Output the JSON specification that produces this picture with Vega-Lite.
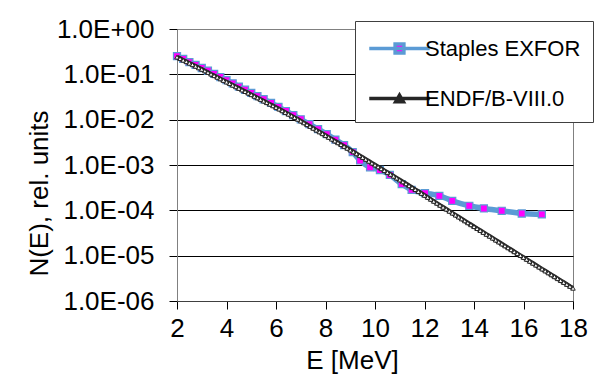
{
  "$schema": "https://vega.github.io/schema/vega-lite/v6.json",
  "width": 396,
  "height": 272,
  "autosize": {"type": "none"},
  "padding": {"left": 177, "top": 29, "right": 28, "bottom": 75},
  "background": "white",
  "config": {
    "font": "Liberation Sans",
    "view": {"stroke": "#808080", "strokeWidth": 1},
    "axis": {"labelFont": "Liberation Sans", "titleFont": "Liberation Sans", "labelColor": "#000", "titleColor": "#000", "titleFontWeight": "normal", "tickColor": "#000", "domainColor": "#404040"}
  },
  "data": {"values": [
    {"series": "Staples EXFOR", "E": 2.0, "N": 0.251},
    {"series": "Staples EXFOR", "E": 2.25, "N": 0.219},
    {"series": "Staples EXFOR", "E": 2.5, "N": 0.186},
    {"series": "Staples EXFOR", "E": 2.75, "N": 0.162},
    {"series": "Staples EXFOR", "E": 3.0, "N": 0.138},
    {"series": "Staples EXFOR", "E": 3.25, "N": 0.120},
    {"series": "Staples EXFOR", "E": 3.5, "N": 0.102},
    {"series": "Staples EXFOR", "E": 3.75, "N": 0.0871},
    {"series": "Staples EXFOR", "E": 4.0, "N": 0.0741},
    {"series": "Staples EXFOR", "E": 4.25, "N": 0.0631},
    {"series": "Staples EXFOR", "E": 4.5, "N": 0.0537},
    {"series": "Staples EXFOR", "E": 4.75, "N": 0.0457},
    {"series": "Staples EXFOR", "E": 5.0, "N": 0.0389},
    {"series": "Staples EXFOR", "E": 5.25, "N": 0.0331},
    {"series": "Staples EXFOR", "E": 5.5, "N": 0.0282},
    {"series": "Staples EXFOR", "E": 5.8, "N": 0.0234},
    {"series": "Staples EXFOR", "E": 6.1, "N": 0.0191},
    {"series": "Staples EXFOR", "E": 6.4, "N": 0.0155},
    {"series": "Staples EXFOR", "E": 6.7, "N": 0.0126},
    {"series": "Staples EXFOR", "E": 7.0, "N": 0.0102},
    {"series": "Staples EXFOR", "E": 7.35, "N": 0.00794},
    {"series": "Staples EXFOR", "E": 7.7, "N": 0.00617},
    {"series": "Staples EXFOR", "E": 8.05, "N": 0.00479},
    {"series": "Staples EXFOR", "E": 8.4, "N": 0.00363},
    {"series": "Staples EXFOR", "E": 8.75, "N": 0.00275},
    {"series": "Staples EXFOR", "E": 9.1, "N": 0.00192},
    {"series": "Staples EXFOR", "E": 9.4, "N": 0.00126},
    {"series": "Staples EXFOR", "E": 9.8, "N": 0.000891},
    {"series": "Staples EXFOR", "E": 10.2, "N": 0.000776},
    {"series": "Staples EXFOR", "E": 10.6, "N": 0.000603},
    {"series": "Staples EXFOR", "E": 11.08, "N": 0.000380},
    {"series": "Staples EXFOR", "E": 11.48, "N": 0.000282},
    {"series": "Staples EXFOR", "E": 12.02, "N": 0.000240},
    {"series": "Staples EXFOR", "E": 12.6, "N": 0.000209},
    {"series": "Staples EXFOR", "E": 13.12, "N": 0.000162},
    {"series": "Staples EXFOR", "E": 13.81, "N": 0.000126},
    {"series": "Staples EXFOR", "E": 14.4, "N": 0.000110},
    {"series": "Staples EXFOR", "E": 15.12, "N": 0.0000977},
    {"series": "Staples EXFOR", "E": 15.93, "N": 0.0000851},
    {"series": "Staples EXFOR", "E": 16.74, "N": 0.0000813},
    {"series": "ENDF/B-VIII.0", "E": 2.0, "N": 0.240},
    {"series": "ENDF/B-VIII.0", "E": 2.125, "N": 0.222},
    {"series": "ENDF/B-VIII.0", "E": 2.25, "N": 0.205},
    {"series": "ENDF/B-VIII.0", "E": 2.375, "N": 0.190},
    {"series": "ENDF/B-VIII.0", "E": 2.5, "N": 0.176},
    {"series": "ENDF/B-VIII.0", "E": 2.625, "N": 0.163},
    {"series": "ENDF/B-VIII.0", "E": 2.75, "N": 0.1505},
    {"series": "ENDF/B-VIII.0", "E": 2.875, "N": 0.139},
    {"series": "ENDF/B-VIII.0", "E": 3.0, "N": 0.129},
    {"series": "ENDF/B-VIII.0", "E": 3.125, "N": 0.119},
    {"series": "ENDF/B-VIII.0", "E": 3.25, "N": 0.110},
    {"series": "ENDF/B-VIII.0", "E": 3.375, "N": 0.101},
    {"series": "ENDF/B-VIII.0", "E": 3.5, "N": 0.0933},
    {"series": "ENDF/B-VIII.0", "E": 3.625, "N": 0.0861},
    {"series": "ENDF/B-VIII.0", "E": 3.75, "N": 0.0794},
    {"series": "ENDF/B-VIII.0", "E": 3.875, "N": 0.0733},
    {"series": "ENDF/B-VIII.0", "E": 4.0, "N": 0.0676},
    {"series": "ENDF/B-VIII.0", "E": 4.125, "N": 0.0624},
    {"series": "ENDF/B-VIII.0", "E": 4.25, "N": 0.0575},
    {"series": "ENDF/B-VIII.0", "E": 4.375, "N": 0.0531},
    {"series": "ENDF/B-VIII.0", "E": 4.5, "N": 0.0490},
    {"series": "ENDF/B-VIII.0", "E": 4.625, "N": 0.0452},
    {"series": "ENDF/B-VIII.0", "E": 4.75, "N": 0.0417},
    {"series": "ENDF/B-VIII.0", "E": 4.875, "N": 0.0385},
    {"series": "ENDF/B-VIII.0", "E": 5.0, "N": 0.0355},
    {"series": "ENDF/B-VIII.0", "E": 5.125, "N": 0.0327},
    {"series": "ENDF/B-VIII.0", "E": 5.25, "N": 0.0302},
    {"series": "ENDF/B-VIII.0", "E": 5.375, "N": 0.0279},
    {"series": "ENDF/B-VIII.0", "E": 5.5, "N": 0.0257},
    {"series": "ENDF/B-VIII.0", "E": 5.625, "N": 0.0237},
    {"series": "ENDF/B-VIII.0", "E": 5.75, "N": 0.0219},
    {"series": "ENDF/B-VIII.0", "E": 5.875, "N": 0.0202},
    {"series": "ENDF/B-VIII.0", "E": 6.0, "N": 0.0186},
    {"series": "ENDF/B-VIII.0", "E": 6.125, "N": 0.0171},
    {"series": "ENDF/B-VIII.0", "E": 6.25, "N": 0.0157},
    {"series": "ENDF/B-VIII.0", "E": 6.375, "N": 0.0144},
    {"series": "ENDF/B-VIII.0", "E": 6.5, "N": 0.0132},
    {"series": "ENDF/B-VIII.0", "E": 6.625, "N": 0.0121},
    {"series": "ENDF/B-VIII.0", "E": 6.75, "N": 0.0111},
    {"series": "ENDF/B-VIII.0", "E": 6.875, "N": 0.0102},
    {"series": "ENDF/B-VIII.0", "E": 7.0, "N": 0.00933},
    {"series": "ENDF/B-VIII.0", "E": 7.125, "N": 0.00851},
    {"series": "ENDF/B-VIII.0", "E": 7.25, "N": 0.00776},
    {"series": "ENDF/B-VIII.0", "E": 7.375, "N": 0.00708},
    {"series": "ENDF/B-VIII.0", "E": 7.5, "N": 0.00646},
    {"series": "ENDF/B-VIII.0", "E": 7.625, "N": 0.00589},
    {"series": "ENDF/B-VIII.0", "E": 7.75, "N": 0.00537},
    {"series": "ENDF/B-VIII.0", "E": 7.875, "N": 0.00490},
    {"series": "ENDF/B-VIII.0", "E": 8.0, "N": 0.00447},
    {"series": "ENDF/B-VIII.0", "E": 8.125, "N": 0.00407},
    {"series": "ENDF/B-VIII.0", "E": 8.25, "N": 0.00372},
    {"series": "ENDF/B-VIII.0", "E": 8.375, "N": 0.00339},
    {"series": "ENDF/B-VIII.0", "E": 8.5, "N": 0.00309},
    {"series": "ENDF/B-VIII.0", "E": 8.625, "N": 0.00282},
    {"series": "ENDF/B-VIII.0", "E": 8.75, "N": 0.00257},
    {"series": "ENDF/B-VIII.0", "E": 8.875, "N": 0.00234},
    {"series": "ENDF/B-VIII.0", "E": 9.0, "N": 0.00214},
    {"series": "ENDF/B-VIII.0", "E": 9.125, "N": 0.001945},
    {"series": "ENDF/B-VIII.0", "E": 9.25, "N": 0.001768},
    {"series": "ENDF/B-VIII.0", "E": 9.375, "N": 0.001608},
    {"series": "ENDF/B-VIII.0", "E": 9.5, "N": 0.001462},
    {"series": "ENDF/B-VIII.0", "E": 9.625, "N": 0.00133},
    {"series": "ENDF/B-VIII.0", "E": 9.75, "N": 0.001209},
    {"series": "ENDF/B-VIII.0", "E": 9.875, "N": 0.0011},
    {"series": "ENDF/B-VIII.0", "E": 10.0, "N": 0.001},
    {"series": "ENDF/B-VIII.0", "E": 10.125, "N": 0.000909},
    {"series": "ENDF/B-VIII.0", "E": 10.25, "N": 0.000827},
    {"series": "ENDF/B-VIII.0", "E": 10.375, "N": 0.000752},
    {"series": "ENDF/B-VIII.0", "E": 10.5, "N": 0.000684},
    {"series": "ENDF/B-VIII.0", "E": 10.625, "N": 0.000622},
    {"series": "ENDF/B-VIII.0", "E": 10.75, "N": 0.000566},
    {"series": "ENDF/B-VIII.0", "E": 10.875, "N": 0.000514},
    {"series": "ENDF/B-VIII.0", "E": 11.0, "N": 0.000468},
    {"series": "ENDF/B-VIII.0", "E": 11.125, "N": 0.000424},
    {"series": "ENDF/B-VIII.0", "E": 11.25, "N": 0.000385},
    {"series": "ENDF/B-VIII.0", "E": 11.375, "N": 0.000349},
    {"series": "ENDF/B-VIII.0", "E": 11.5, "N": 0.000316},
    {"series": "ENDF/B-VIII.0", "E": 11.625, "N": 0.000287},
    {"series": "ENDF/B-VIII.0", "E": 11.75, "N": 0.000260},
    {"series": "ENDF/B-VIII.0", "E": 11.875, "N": 0.000236},
    {"series": "ENDF/B-VIII.0", "E": 12.0, "N": 0.000214},
    {"series": "ENDF/B-VIII.0", "E": 12.125, "N": 0.000193},
    {"series": "ENDF/B-VIII.0", "E": 12.25, "N": 0.000175},
    {"series": "ENDF/B-VIII.0", "E": 12.375, "N": 0.000158},
    {"series": "ENDF/B-VIII.0", "E": 12.5, "N": 0.000143},
    {"series": "ENDF/B-VIII.0", "E": 12.625, "N": 0.000129},
    {"series": "ENDF/B-VIII.0", "E": 12.75, "N": 0.000117},
    {"series": "ENDF/B-VIII.0", "E": 12.875, "N": 0.000106},
    {"series": "ENDF/B-VIII.0", "E": 13.0, "N": 0.0000955},
    {"series": "ENDF/B-VIII.0", "E": 13.125, "N": 0.0000866},
    {"series": "ENDF/B-VIII.0", "E": 13.25, "N": 0.0000785},
    {"series": "ENDF/B-VIII.0", "E": 13.375, "N": 0.0000712},
    {"series": "ENDF/B-VIII.0", "E": 13.5, "N": 0.0000646},
    {"series": "ENDF/B-VIII.0", "E": 13.625, "N": 0.0000585},
    {"series": "ENDF/B-VIII.0", "E": 13.75, "N": 0.0000531},
    {"series": "ENDF/B-VIII.0", "E": 13.875, "N": 0.0000481},
    {"series": "ENDF/B-VIII.0", "E": 14.0, "N": 0.0000437},
    {"series": "ENDF/B-VIII.0", "E": 14.125, "N": 0.0000396},
    {"series": "ENDF/B-VIII.0", "E": 14.25, "N": 0.0000359},
    {"series": "ENDF/B-VIII.0", "E": 14.375, "N": 0.0000325},
    {"series": "ENDF/B-VIII.0", "E": 14.5, "N": 0.0000295},
    {"series": "ENDF/B-VIII.0", "E": 14.625, "N": 0.0000268},
    {"series": "ENDF/B-VIII.0", "E": 14.75, "N": 0.0000243},
    {"series": "ENDF/B-VIII.0", "E": 14.875, "N": 0.0000220},
    {"series": "ENDF/B-VIII.0", "E": 15.0, "N": 0.0000200},
    {"series": "ENDF/B-VIII.0", "E": 15.125, "N": 0.0000181},
    {"series": "ENDF/B-VIII.0", "E": 15.25, "N": 0.0000164},
    {"series": "ENDF/B-VIII.0", "E": 15.375, "N": 0.0000149},
    {"series": "ENDF/B-VIII.0", "E": 15.5, "N": 0.0000135},
    {"series": "ENDF/B-VIII.0", "E": 15.625, "N": 0.0000122},
    {"series": "ENDF/B-VIII.0", "E": 15.75, "N": 0.0000111},
    {"series": "ENDF/B-VIII.0", "E": 15.875, "N": 0.00001006},
    {"series": "ENDF/B-VIII.0", "E": 16.0, "N": 0.00000912},
    {"series": "ENDF/B-VIII.0", "E": 16.125, "N": 0.00000827},
    {"series": "ENDF/B-VIII.0", "E": 16.25, "N": 0.00000750},
    {"series": "ENDF/B-VIII.0", "E": 16.375, "N": 0.00000680},
    {"series": "ENDF/B-VIII.0", "E": 16.5, "N": 0.00000617},
    {"series": "ENDF/B-VIII.0", "E": 16.625, "N": 0.00000559},
    {"series": "ENDF/B-VIII.0", "E": 16.75, "N": 0.00000507},
    {"series": "ENDF/B-VIII.0", "E": 16.875, "N": 0.00000460},
    {"series": "ENDF/B-VIII.0", "E": 17.0, "N": 0.00000417},
    {"series": "ENDF/B-VIII.0", "E": 17.125, "N": 0.00000378},
    {"series": "ENDF/B-VIII.0", "E": 17.25, "N": 0.00000343},
    {"series": "ENDF/B-VIII.0", "E": 17.375, "N": 0.00000311},
    {"series": "ENDF/B-VIII.0", "E": 17.5, "N": 0.00000282},
    {"series": "ENDF/B-VIII.0", "E": 17.625, "N": 0.00000256},
    {"series": "ENDF/B-VIII.0", "E": 17.75, "N": 0.00000232},
    {"series": "ENDF/B-VIII.0", "E": 17.875, "N": 0.00000210},
    {"series": "ENDF/B-VIII.0", "E": 18.0, "N": 0.00000191}
  ]},
  "encoding": {
    "x": {
      "field": "E", "type": "quantitative",
      "scale": {"domain": [2, 18], "nice": false, "zero": false},
      "axis": {
        "values": [2, 4, 6, 8, 10, 12, 14, 16, 18],
        "title": "E [MeV]", "grid": false,
        "tickSize": 8, "labelPadding": 6, "labelFontSize": 26, "labelFlush": false,
        "titleFontSize": 26, "titleX": 175, "titleY": 67, "titleBaseline": "alphabetic", "titleAlign": "center",
        "domainColor": "#404040"
      }
    },
    "y": {
      "field": "N", "type": "quantitative",
      "scale": {"type": "log", "domain": [0.000001, 1], "nice": false},
      "axis": {
        "values": [1, 0.1, 0.01, 0.001, 0.0001, 0.00001, 0.000001],
        "labelExpr": "'1.0E' + (datum.value >= 1 ? '+' : '-') + '0' + abs(round(log(datum.value) / LN10))",
        "title": "N(E), rel. units", "grid": true,
        "gridColor": {"condition": {"test": "datum.value >= 1", "value": "#808080"}, "value": "#000000"},
        "gridWidth": 1,
        "tickSize": 8, "labelPadding": 15, "labelFontSize": 26, "labelFlush": false,
        "titleFontSize": 26, "titleAngle": 270, "titleX": -130, "titleY": 164,
        "titleBaseline": "alphabetic", "titleAlign": "center",
        "domainColor": "#808080"
      }
    }
  },
  "layer": [
    {
      "transform": [{"filter": {"field": "series", "equal": "Staples EXFOR"}}],
      "mark": {"type": "line", "strokeWidth": 5.5, "interpolate": "monotone", "strokeCap": "round"},
      "encoding": {
        "stroke": {
          "field": "series", "type": "nominal",
          "scale": {"domain": ["Staples EXFOR", "ENDF/B-VIII.0"], "range": ["#5B9BD5", "#262626"]},
          "legend": {"orient": "none", "legendX": 178, "legendY": -8, "title": null, "padding": 12, "symbolSize": 756, "symbolStrokeWidth": 3.5, "symbolOffset": 17, "labelOffset": 10, "labelFontSize": 22, "labelFont": "Liberation Sans", "labelColor": "#000", "rowPadding": 23, "fillColor": "#ffffff", "strokeColor": "#404040"}
        }
      }
    },
    {
      "transform": [{"filter": {"field": "series", "equal": "Staples EXFOR"}}],
      "mark": {"type": "point", "shape": "square", "filled": true, "fill": "#FF00FF", "stroke": "#5B9BD5", "strokeWidth": 1.2, "size": 50, "opacity": 1}
    },
    {
      "transform": [{"filter": {"field": "series", "equal": "ENDF/B-VIII.0"}}],
      "mark": {"type": "line", "strokeWidth": 4.5},
      "encoding": {
        "stroke": {"field": "series", "type": "nominal"}
      }
    },
    {
      "transform": [{"filter": {"field": "series", "equal": "ENDF/B-VIII.0"}}],
      "mark": {"type": "point", "shape": "triangle-up", "filled": true, "fill": "#FFFFFF", "stroke": "#262626", "strokeWidth": 1, "size": 20, "opacity": 1}
    },
    {
      "transform": [{"filter": {"field": "series", "equal": "none"}}],
      "mark": {"type": "point", "filled": true, "opacity": 1},
      "encoding": {
        "shape": {
          "field": "series", "type": "nominal",
          "scale": {"domain": ["Staples EXFOR", "ENDF/B-VIII.0"], "range": ["M-2.2,0H2.2M-0.32,-0.32H0.32V0.32H-0.32Z", "M-2.2,0H2.2M-0.28,0.24L0,-0.24L0.28,0.24Z"]},
          "legend": {"orient": "none", "legendX": 178, "legendY": -8, "title": null, "padding": 12, "symbolSize": 756, "symbolStrokeWidth": 3.5, "symbolOffset": 17, "labelOffset": 10, "labelFontSize": 22, "labelFont": "Liberation Sans", "labelColor": "#000", "rowPadding": 23, "fillColor": "#ffffff", "strokeColor": "#404040"}
        },
        "fill": {
          "field": "series", "type": "nominal",
          "scale": {"domain": ["Staples EXFOR", "ENDF/B-VIII.0"], "range": ["#FF00FF", "#FFFFFF"]},
          "legend": {"orient": "none", "legendX": 178, "legendY": -8, "title": null, "padding": 12, "symbolSize": 756, "symbolStrokeWidth": 3.5, "symbolOffset": 17, "labelOffset": 10, "labelFontSize": 22, "labelFont": "Liberation Sans", "labelColor": "#000", "rowPadding": 23, "fillColor": "#ffffff", "strokeColor": "#404040"}
        },
        "stroke": {"field": "series", "type": "nominal"}
      }
    }
  ]
}
